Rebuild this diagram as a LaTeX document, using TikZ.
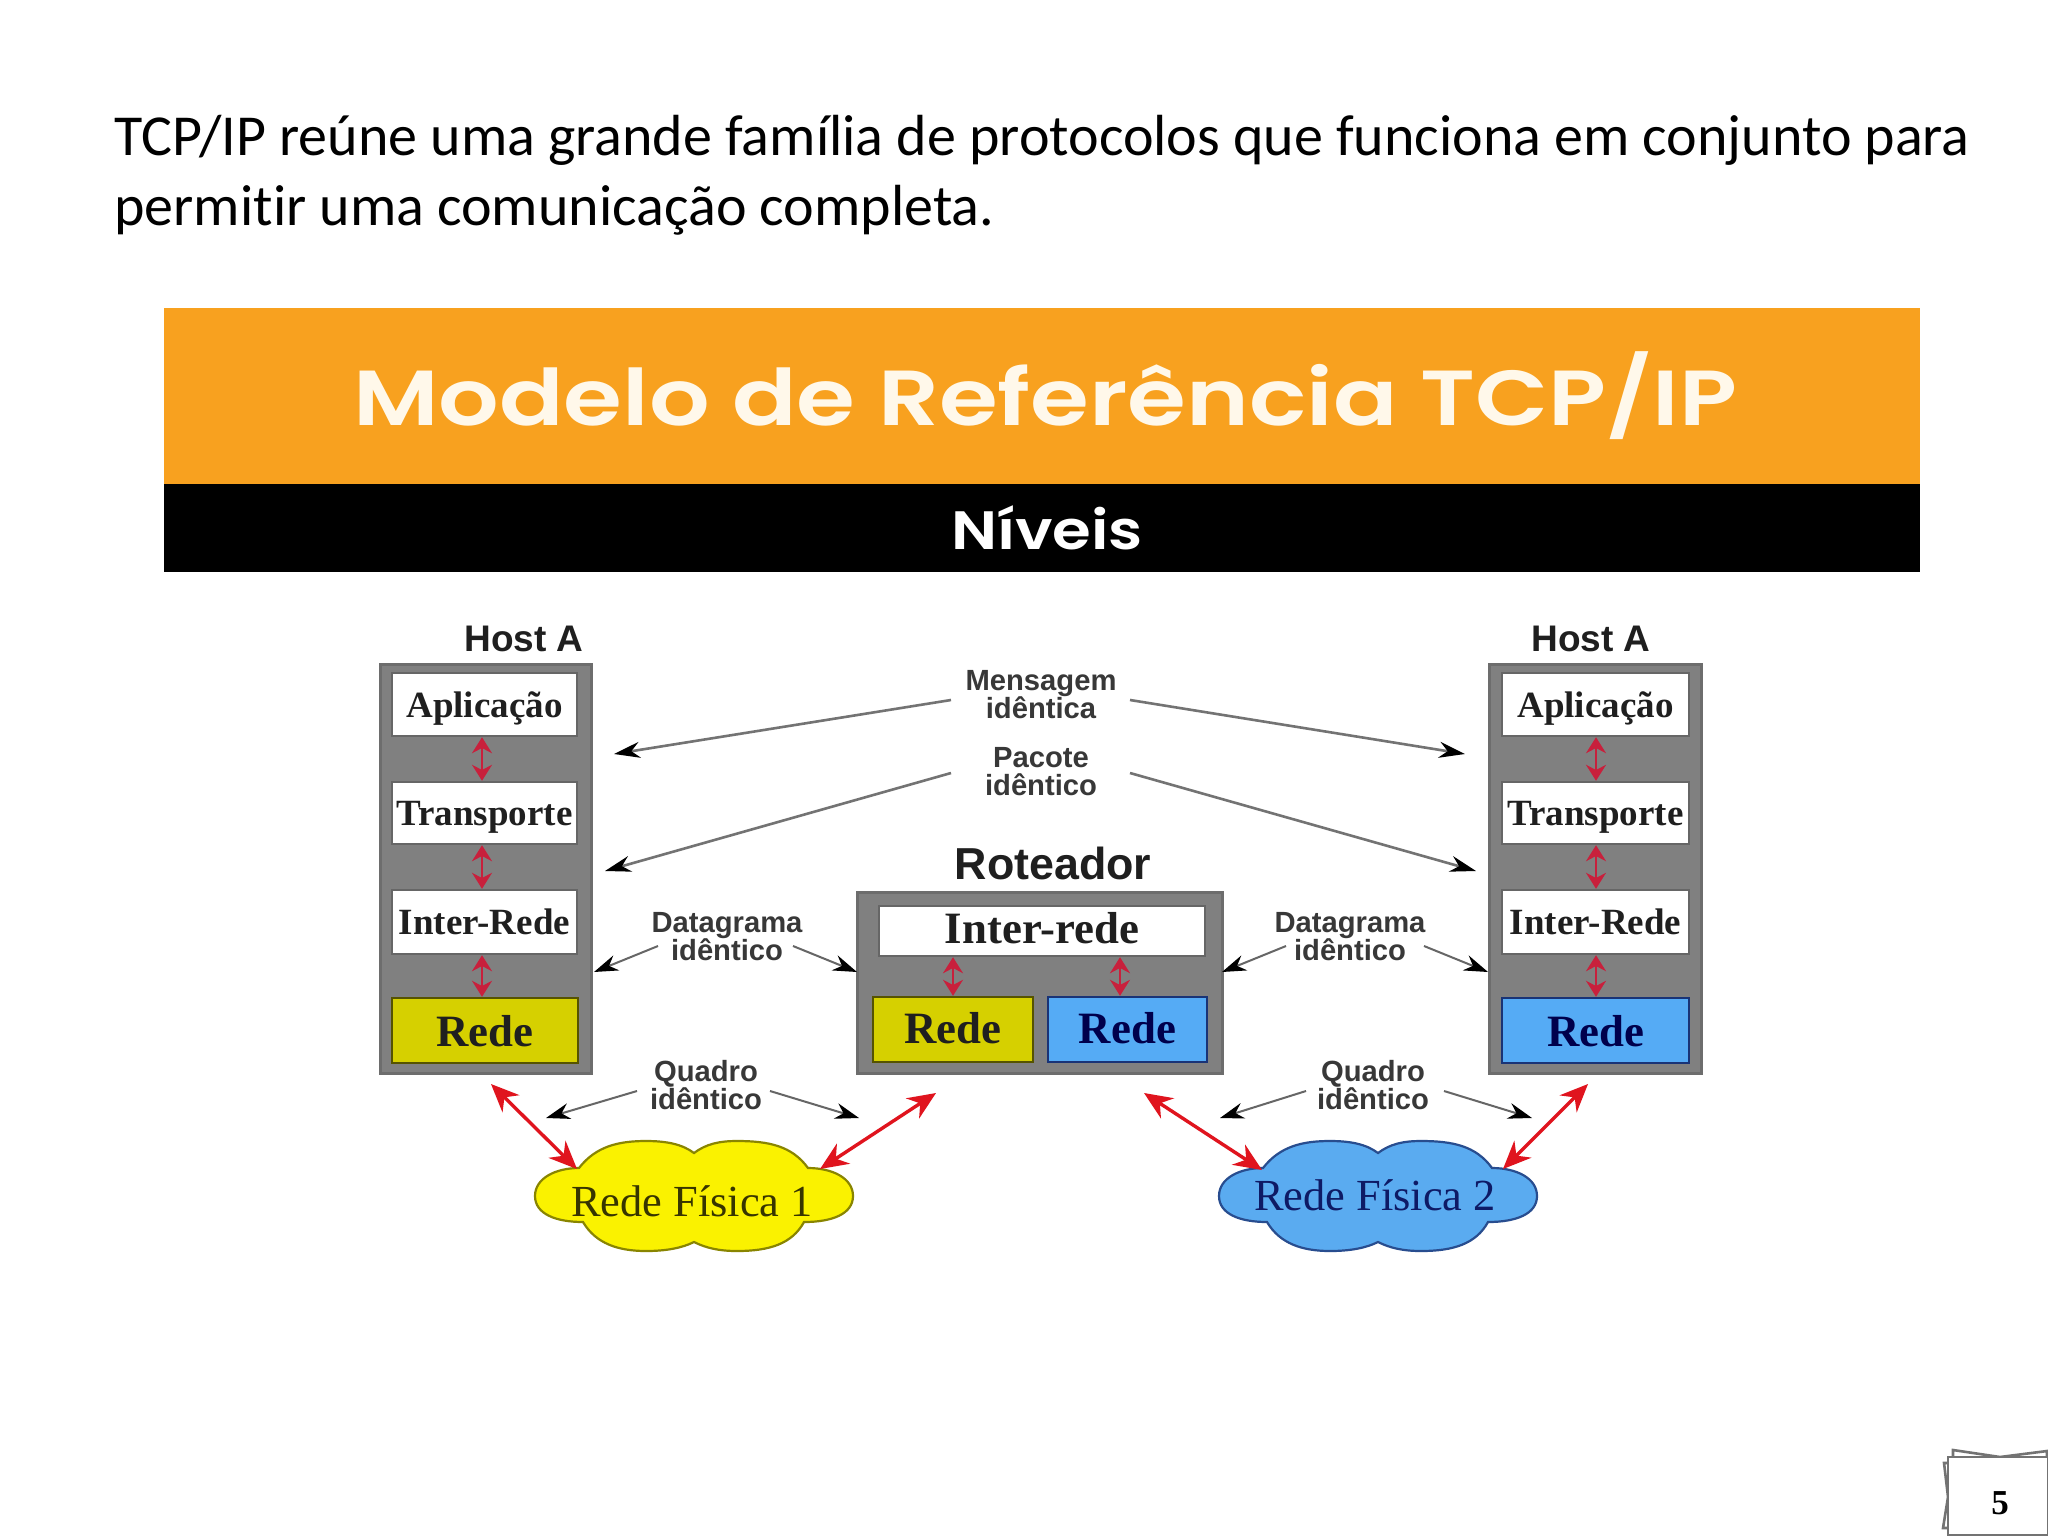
\documentclass[tikz,border=0pt]{standalone}
\usepackage{fontspec}
\usepackage{graphicx}
\usetikzlibrary{arrows.meta}
\setmainfont{Carlito}[Ligatures=NoCommon]
\newfontfamily\serifbox{Liberation Serif}
\newfontfamily\sanslab{Liberation Sans}
\newfontfamily\titlefont{Poppins}[UprightFont=* SemiBold]
\definecolor{bandorange}{HTML}{F8A11F}
\definecolor{boxgray}{HTML}{808080}
\definecolor{redyellow}{HTML}{D6D000}
\definecolor{redblue}{HTML}{55ABF5}
\definecolor{cloudyellow}{HTML}{FAF200}
\definecolor{cloudblue}{HTML}{5AABF0}
\definecolor{innerred}{HTML}{C8203C}
\definecolor{outerred}{HTML}{E0141E}
\definecolor{titlecream}{HTML}{FFF8EA}
\newcommand{\cloudpath}{(-115,-28) .. controls (-138,-28) and (-159,-18) .. (-159,0)
 .. controls (-159,18) and (-138,26) .. (-111,26)
 .. controls (-98,48) and (-75,55) .. (-48,55)
 .. controls (-28,55) and (-12,52) .. (0,46)
 .. controls (12,52) and (25,55) .. (43,55)
 .. controls (75,55) and (98,48) .. (110,26)
 .. controls (138,26) and (159,18) .. (159,0)
 .. controls (159,-18) and (138,-28) .. (114,-28)
 .. controls (98,-50) and (75,-55) .. (43,-55)
 .. controls (25,-55) and (12,-52) .. (0,-43)
 .. controls (-12,-52) and (-28,-55) .. (-48,-55)
 .. controls (-75,-55) and (-98,-50) .. (-115,-28) -- cycle}
\tikzset{
  graybox/.style={draw=boxgray!85!black,line width=1.5pt,fill=boxgray,inner sep=0pt},
  layerbox/.style={draw=black!60,line width=1.2pt,fill=white,inner sep=0pt,text depth=0pt,text=black!88,font=\serifbox\bfseries\fontsize{18.5}{20}\selectfont},
  netyellow/.style={layerbox,fill=redyellow,draw=black!60!redyellow,font=\serifbox\bfseries\fontsize{22.4}{24}\selectfont},
  netblue/.style={layerbox,fill=redblue,draw=blue!25!black!70!redblue,text=blue!30!black,font=\serifbox\bfseries\fontsize{22.4}{24}\selectfont},
  hostlabel/.style={inner sep=0pt,text=black!88,font=\sanslab\bfseries\fontsize{18.5}{20}\selectfont},
  smalllabel/.style={inner sep=0pt,align=center,text=black!78,font=\sanslab\bfseries\fontsize{14.6}{14}\selectfont},
  cloudtext/.style={inner sep=0pt,font=\serifbox\fontsize{22.2}{24}\selectfont},
  updown/.style={draw=innerred,line width=1.2pt,{Stealth[length=8pt,width=10pt]}-{Stealth[length=8pt,width=10pt]}},
  physlink/.style={draw=outerred,line width=1.7pt,{Stealth[length=14pt,width=12pt]}-{Stealth[length=14pt,width=12pt]}},
  pointer/.style={draw=black!55,line width=1.3pt,-{Stealth[length=13pt,width=8pt,black]}},
  pointerb/.style={draw=black!60,line width=1pt,-{Stealth[length=12pt,width=8pt,black]}},
  sheet/.style={draw=black!55,line width=1.3pt,fill=white},
}
\begin{document}
\begin{tikzpicture}[x=0.5pt,y=-0.5pt]
\useasboundingbox (0,0) rectangle (2048,1536);
\fill[white] (0,0) rectangle (2048,1536);
% heading text
\node[anchor=west,align=left,inner sep=0pt,text=black,font=\fontsize{29}{35}\selectfont] (intro) at (114,175)
  {TCP/IP reúne uma grande família de protocolos que funciona em conjunto para\\permitir uma comunicação completa.};
% bands
\node[fill=bandorange,inner sep=0pt,minimum width=878pt,minimum height=88pt] (band) at (1042,396) {};
\node[fill=black,inner sep=0pt,minimum width=878pt,minimum height=44pt] (sub) at (1042,528) {};
\node[inner sep=0pt,text=titlecream,font=\titlefont\fontsize{39}{40}\selectfont] (bandt) at (1045,396) {\scalebox{1.22}[1]{Modelo de Referência TCP/IP}};
\node[inner sep=0pt,text=white,font=\titlefont\fontsize{27}{28}\selectfont] (subt) at (1047,528) {\scalebox{1.16}[1]{Níveis}};
% host A left
\node[graybox,minimum width=105.5pt,minimum height=204.5pt] (hostL) at (485.5,868.5) {};
\node[layerbox,minimum width=92.5pt,minimum height=31.5pt] (apL) at (484.5,704.5) {Aplicação};
\node[layerbox,minimum width=92.5pt,minimum height=31pt] (trL) at (484.5,813) {Transporte};
\node[layerbox,minimum width=92.5pt,minimum height=32pt] (inL) at (484.5,922) {Inter-Rede};
\node[netyellow,minimum width=93pt,minimum height=32.5pt] (reL) at (485,1030.5) {Rede};
\draw[updown] (apL.south -| 482,0) -- (trL.north -| 482,0);
\draw[updown] (trL.south -| 482,0) -- (inL.north -| 482,0);
\draw[updown] (inL.south -| 482,0) -- (reL.north -| 482,0);
\node[hostlabel] (hostLt) at (524,639) {Host A};
% host A right
\node[graybox,minimum width=106pt,minimum height=204.5pt] (hostR) at (1595,868.5) {};
\node[layerbox,minimum width=93.5pt,minimum height=31.5pt] (apR) at (1595.5,704.5) {Aplicação};
\node[layerbox,minimum width=93.5pt,minimum height=31pt] (trR) at (1595.5,813) {Transporte};
\node[layerbox,minimum width=93.5pt,minimum height=32pt] (inR) at (1595.5,922) {Inter-Rede};
\node[netblue,minimum width=93.5pt,minimum height=32.5pt] (reR) at (1595.5,1030.5) {Rede};
\draw[updown] (apR.south -| 1596,0) -- (trR.north -| 1596,0);
\draw[updown] (trR.south -| 1596,0) -- (inR.north -| 1596,0);
\draw[updown] (inR.south -| 1596,0) -- (reR.north -| 1596,0);
\node[hostlabel] (hostRt) at (1591,639) {Host A};
% router
\node[graybox,minimum width=182.5pt,minimum height=90.5pt] (router) at (1039.5,982.5) {};
\node[layerbox,minimum width=163pt,minimum height=25pt,text depth=2.6pt,font=\serifbox\bfseries\fontsize{22.4}{24}\selectfont] (inM) at (1042,931) {Inter-rede};
\node[netyellow,minimum width=80pt,minimum height=32.5pt,text depth=1.5pt] (reMa) at (953,1029.5) {Rede};
\node[netblue,minimum width=79.5pt,minimum height=32.5pt,text depth=1.5pt] (reMb) at (1127.5,1029.5) {Rede};
\draw[updown] (inM.south -| reMa.north) -- (reMa.north);
\draw[updown] (inM.south -| 1120,0) -- (reMb.north -| 1120,0);
\node[inner sep=0pt,text=black!88,font=\sanslab\bfseries\fontsize{22.4}{24}\selectfont] (routert) at (1053,863) {Roteador};
% clouds
\begin{scope}[shift={(694,1196)}]
\draw[fill=cloudyellow,draw=black!45!cloudyellow,line width=1.1pt] \cloudpath;
\end{scope}
\begin{scope}[shift={(1378,1196)}]
\draw[fill=cloudblue,draw=blue!25!black!55!cloudblue,line width=1.1pt] \cloudpath;
\end{scope}
\node[cloudtext,text=black!78!cloudyellow] (cloudA) at (692,1201) {Rede Física 1};
\node[cloudtext,text=blue!30!black!85!cloudblue] (cloudB) at (1375,1195) {Rede Física 2};
% labels
\node[smalllabel] (lmsg) at (1041,695) {Mensagem\\idêntica};
\node[smalllabel] (lpac) at (1041,772) {Pacote\\idêntico};
\node[smalllabel] (ldgL) at (727,937) {Datagrama\\idêntico};
\node[smalllabel] (ldgR) at (1350,937) {Datagrama\\idêntico};
\node[smalllabel] (lqdL) at (706,1085) {Quadro\\idêntico};
\node[smalllabel] (lqdR) at (1373,1085) {Quadro\\idêntico};
% connector ends
\coordinate (m1) at (951,700); \coordinate (m1e) at (614,754);
\coordinate (m2) at (1130,700); \coordinate (m2e) at (1465,754);
\coordinate (p1) at (951,773); \coordinate (p1e) at (605,871);
\coordinate (p2) at (1130,773); \coordinate (p2e) at (1476,871);
\coordinate (d1) at (658,946); \coordinate (d1e) at (594,972);
\coordinate (d2) at (793,946); \coordinate (d2e) at (857,972);
\coordinate (d3) at (1286,946); \coordinate (d3e) at (1222,972);
\coordinate (d4) at (1424,946); \coordinate (d4e) at (1488,972);
\coordinate (q1) at (637,1091); \coordinate (q1e) at (546,1118);
\coordinate (q2) at (770,1091); \coordinate (q2e) at (859,1118);
\coordinate (q3) at (1306,1091); \coordinate (q3e) at (1220,1118);
\coordinate (q4) at (1444,1091); \coordinate (q4e) at (1532,1118);
\draw[pointer] (m1) -- (m1e);
\draw[pointer] (m2) -- (m2e);
\draw[pointer] (p1) -- (p1e);
\draw[pointer] (p2) -- (p2e);
\draw[pointerb] (d1) -- (d1e);
\draw[pointerb] (d2) -- (d2e);
\draw[pointerb] (d3) -- (d3e);
\draw[pointerb] (d4) -- (d4e);
\draw[pointerb] (q1) -- (q1e);
\draw[pointerb] (q2) -- (q2e);
\draw[pointerb] (q3) -- (q3e);
\draw[pointerb] (q4) -- (q4e);
% physical links
\coordinate (r1) at (491,1084); \coordinate (r1e) at (577,1169);
\coordinate (r2) at (936,1093); \coordinate (r2e) at (820,1169);
\coordinate (r3) at (1144,1093); \coordinate (r3e) at (1262,1170);
\coordinate (r4) at (1588,1084); \coordinate (r4e) at (1503,1169);
\draw[physlink] (r1) -- (r1e);
\draw[physlink] (r2) -- (r2e);
\draw[physlink] (r3) -- (r3e);
\draw[physlink] (r4) -- (r4e);
% page number
\draw[sheet] (1953,1450) -- (2000,1457) -- (2047,1451) -- (2047,1470) -- (1953,1470) -- cycle;
\draw[sheet] (1944,1463) -- (1948,1497) -- (1943,1528) -- (1960,1528) -- (1960,1463) -- cycle;
\node[draw=black!55,line width=1.3pt,fill=white,inner sep=0pt,minimum width=50pt,minimum height=39pt] (page) at (1998,1496) {};
\node[inner sep=0pt,font=\serifbox\bfseries\fontsize{17.5}{18}\selectfont] (pagenum) at (2000,1503) {5};
\end{tikzpicture}
\end{document}
